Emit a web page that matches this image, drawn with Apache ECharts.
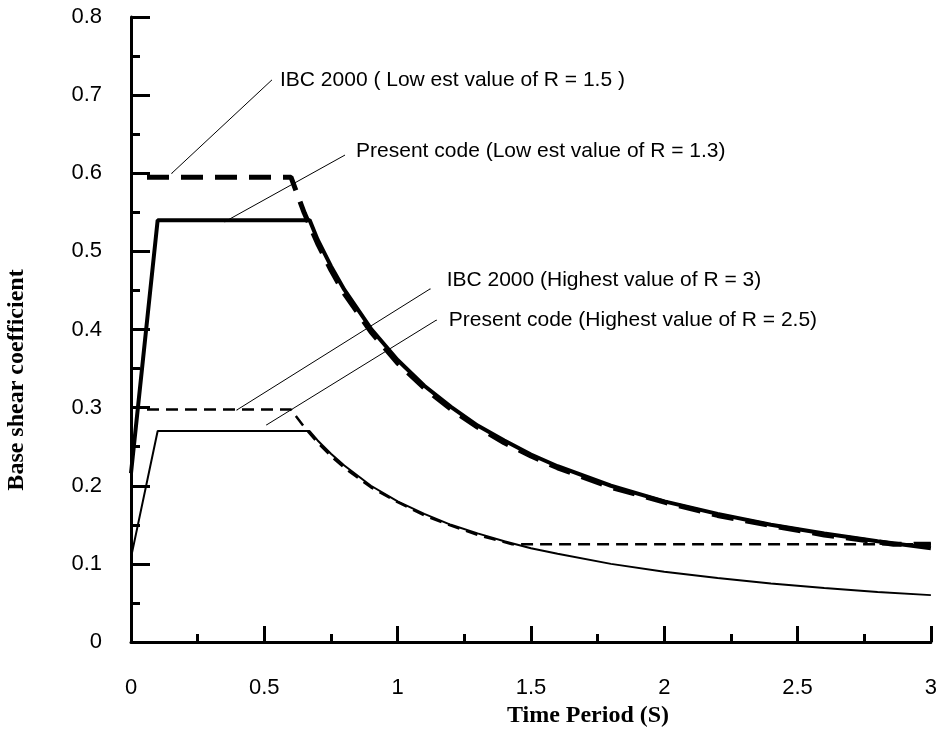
<!DOCTYPE html>
<html>
<head>
<meta charset="utf-8">
<script src="https://cdn.jsdelivr.net/npm/echarts@6/dist/echarts.min.js"></script>
<style>
  html, body { margin: 0; padding: 0; background: #fff; }
  #chart { width: 940px; height: 737px; }
</style>
</head>
<body>
<div id="chart"></div>
<script>
// Time periods (s) and base shear coefficients for each spectrum
const tPresent = [0, 0.1, 0.67, 0.7, 0.75, 0.8, 0.9, 1.0, 1.1, 1.2, 1.3, 1.4, 1.5, 1.6, 1.8, 2.0, 2.2, 2.4, 2.6, 2.8, 3.0];
const presentLowestR = [0.216, 0.54, 0.54, 0.515, 0.481, 0.451, 0.401, 0.361, 0.328, 0.301, 0.277, 0.258, 0.240, 0.225, 0.200, 0.180, 0.164, 0.150, 0.139, 0.129, 0.120];
const presentHighestR = [0.108, 0.27, 0.27, 0.258, 0.241, 0.226, 0.200, 0.180, 0.164, 0.150, 0.139, 0.129, 0.120, 0.113, 0.100, 0.090, 0.082, 0.075, 0.069, 0.064, 0.060];

const tIbcLowest = [0.06, 0.6, 0.65, 0.7, 0.75, 0.8, 0.9, 1.0, 1.1, 1.2, 1.3, 1.4, 1.5, 1.6, 1.8, 2.0, 2.2, 2.4, 2.6, 2.8, 2.86, 3.0];
const ibcLowestR = [0.595, 0.595, 0.549, 0.510, 0.476, 0.446, 0.397, 0.357, 0.325, 0.298, 0.275, 0.255, 0.238, 0.223, 0.198, 0.179, 0.162, 0.149, 0.137, 0.128, 0.125, 0.125];

const tIbcHighest = [0.06, 0.6, 0.65, 0.7, 0.75, 0.8, 0.9, 1.0, 1.1, 1.2, 1.3, 1.4, 1.43, 3.0];
const ibcHighestR = [0.2975, 0.2975, 0.275, 0.255, 0.238, 0.223, 0.198, 0.179, 0.162, 0.149, 0.137, 0.128, 0.125, 0.125];

// Annotation texts and their leader lines (start on the curve, end at the text)
const annotationTexts = [
  'IBC 2000 ( Low est value of R = 1.5 )',
  'Present code (Low est value of R = 1.3)',
  'IBC 2000 (Highest value of R = 3)',
  'Present code (Highest value of R = 2.5)'
];
const leaderStart = [[0.153, 0.600], [0.352, 0.538], [0.397, 0.297], [0.509, 0.278]];
const leaderEnd = [[0.527, 0.719], [0.801, 0.623], [1.122, 0.452], [1.145, 0.412]];

// Axis ticks
const xTicks = { min: 0, max: 3, step: 0.5 };
const yTicks = { min: 0, max: 0.8, step: 0.1 };

const pair = (ts, vs) => ts.map((t, i) => [t, vs[i]]);

const SANS = '"Liberation Sans", Arial, sans-serif';
const SERIF = '"Liberation Serif", "Times New Roman", serif';

const labelPlacement = [
  { distance: 8, offset: [0, 0] },
  { distance: 11, offset: [0, -4] },
  { distance: 16, offset: [0, -9] },
  { distance: 12, offset: [0, 0] }
];

const leaderSeries = annotationTexts.map((text, i) => ({
  type: 'line',
  data: [
    leaderStart[i],
    {
      value: leaderEnd[i],
      label: {
        show: true,
        position: 'right',
        distance: labelPlacement[i].distance,
        offset: labelPlacement[i].offset,
        formatter: text,
        color: '#000',
        fontSize: 21,
        fontFamily: SANS
      }
    }
  ],
  symbol: 'circle',
  symbolSize: 1,
  showSymbol: true,
  itemStyle: { color: '#000' },
  lineStyle: { color: '#000', width: 1 },
  silent: true,
  z: 5
}));

const chart = echarts.init(document.getElementById('chart'), null, { renderer: 'canvas' });

const axisCommon = {
  type: 'value',
  splitLine: { show: false },
  axisLine: { show: true, onZero: false, lineStyle: { color: '#000', width: 3 } },
  axisLabel: { color: '#000', fontSize: 22, fontFamily: SANS }
};

chart.setOption({
  animation: false,
  backgroundColor: '#fff',
  grid: { left: 131, right: 7, top: 17, bottom: 95 },
  xAxis: Object.assign({}, axisCommon, {
    min: xTicks.min, max: xTicks.max, interval: xTicks.step,
    axisTick: { show: true, inside: true, length: 16, lineStyle: { color: '#000', width: 3 } },
    minorTick: { show: true, splitNumber: 2, length: 8, lineStyle: { color: '#000', width: 3 } },
    axisLabel: Object.assign({}, axisCommon.axisLabel, { margin: 35 })
  }),
  yAxis: Object.assign({}, axisCommon, {
    min: yTicks.min, max: yTicks.max, interval: yTicks.step,
    axisTick: { show: true, inside: true, length: 19, lineStyle: { color: '#000', width: 3 } },
    minorTick: { show: true, splitNumber: 2, length: 9, lineStyle: { color: '#000', width: 3 } },
    axisLabel: Object.assign({}, axisCommon.axisLabel, { margin: 29 })
  }),
  graphic: [
    {
      type: 'text', x: 17, y: 380, rotation: Math.PI / 2,
      style: { text: 'Base shear coefficient', font: 'bold 24px ' + SERIF, fill: '#000', align: 'center', verticalAlign: 'middle' }
    },
    {
      type: 'text', x: 588, y: 716,
      style: { text: 'Time Period (S)', font: 'bold 24px ' + SERIF, fill: '#000', align: 'center', verticalAlign: 'middle' }
    }
  ],
  series: [
    {
      name: 'Present code (Highest value of R = 2.5)',
      type: 'line', showSymbol: false, silent: true,
      data: pair(tPresent, presentHighestR),
      lineStyle: { color: '#000', width: 2 },
      z: 2
    },
    {
      name: 'IBC 2000 (Highest value of R = 3)',
      type: 'line', showSymbol: false, silent: true,
      data: pair(tIbcHighest, ibcHighestR),
      lineStyle: { color: '#000', width: 2.5, type: [12, 7] },
      z: 3
    },
    {
      name: 'Present code (Lowest value of R = 1.3)',
      type: 'line', showSymbol: false, silent: true,
      data: pair(tPresent, presentLowestR),
      lineStyle: { color: '#000', width: 4 },
      z: 2
    },
    {
      name: 'IBC 2000 (Lowest value of R = 1.5)',
      type: 'line', showSymbol: false, silent: true,
      data: pair(tIbcLowest, ibcLowestR),
      lineStyle: { color: '#000', width: 5, type: [22, 12] },
      z: 3
    }
  ].concat(leaderSeries)
});
</script>
</body>
</html>
